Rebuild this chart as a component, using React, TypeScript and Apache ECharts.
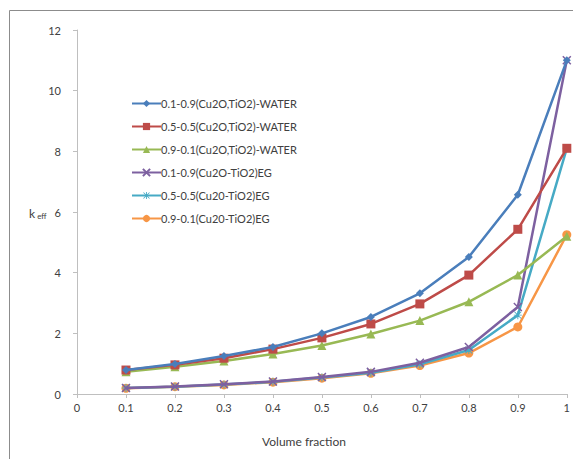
import React, { useEffect, useRef } from "react";
import * as echarts from "echarts";

const xValues = [0.1, 0.2, 0.3, 0.4, 0.5, 0.6, 0.7, 0.8, 0.9, 1.0];
const seriesNames = [
  "0.1-0.9(Cu2O,TiO2)-WATER",
  "0.5-0.5(Cu2O,TiO2)-WATER",
  "0.9-0.1(Cu2O,TiO2)-WATER",
  "0.1-0.9(Cu2O-TiO2)EG",
  "0.5-0.5(Cu20-TiO2)EG",
  "0.9-0.1(Cu20-TiO2)EG",
];
const water01 = [0.79, 0.99, 1.25, 1.55, 2.0, 2.54, 3.32, 4.52, 6.57, 11.0];
const water05 = [0.79, 0.96, 1.18, 1.48, 1.85, 2.31, 2.97, 3.92, 5.43, 8.1];
const water09 = [0.73, 0.9, 1.09, 1.32, 1.6, 1.98, 2.42, 3.04, 3.92, 5.2];
const eg01 = [0.2, 0.25, 0.32, 0.41, 0.56, 0.73, 1.03, 1.55, 2.87, 11.0];
const eg05 = [0.2, 0.24, 0.31, 0.4, 0.54, 0.7, 0.98, 1.45, 2.6, 8.1];
const eg09 = [0.19, 0.24, 0.3, 0.39, 0.52, 0.68, 0.94, 1.35, 2.21, 5.25];
const allValues = [water01, water05, water09, eg01, eg05, eg09];
const colors = ["#4a7ebb", "#be4b48", "#98b954", "#7d60a0", "#46aac5", "#f79646"];
const symbols = [
  "diamond",
  "rect",
  "triangle",
  "path://M0,0 L10,10 M10,0 L0,10",
  "path://M4.4,0 L5.6,0 L5.6,4.4 L10,4.4 L10,5.6 L5.6,5.6 L5.6,10 L4.4,10 L4.4,5.6 L0,5.6 L0,4.4 L4.4,4.4 Z M1.2,0.4 L5,4.2 L8.8,0.4 L9.6,1.2 L5.8,5 L9.6,8.8 L8.8,9.6 L5,5.8 L1.2,9.6 L0.4,8.8 L4.2,5 L0.4,1.2 Z",
  "circle",
];
const symbolSizes = [8, 9, 9, 8, 8, 9];

export default function App() {
  const ref = useRef<HTMLDivElement>(null);
  useEffect(() => {
    if (!ref.current) return;
    const chart = echarts.init(ref.current, null, { renderer: "svg" });
    const textColor = "#404040";
    const font = "Lato, 'Open Sans', sans-serif";
    chart.setOption({
      animation: false,
      backgroundColor: "#ffffff",
      textStyle: { fontFamily: font },
      grid: { left: 77, right: 6, top: 30, bottom: 65, containLabel: false },
      legend: {
        orient: "vertical",
        left: 126,
        top: 93,
        itemWidth: 29,
        itemHeight: 9,
        itemGap: 12,
        textStyle: { color: textColor, fontSize: 11, fontFamily: font, padding: [0, 0, 0, -5] },
        data: seriesNames,
      },
      xAxis: {
        type: "value",
        min: 0,
        max: 1,
        interval: 0.1,
        axisLine: { show: true, lineStyle: { color: "#bfbfbf", width: 1 } },
        axisTick: { show: true, length: 4, lineStyle: { color: "#bfbfbf" } },
        splitLine: { show: false },
        axisLabel: {
          color: textColor,
          fontSize: 11,
          margin: 8,
          formatter: (v: number) => String(Math.round(v * 10) / 10),
        },
      },
      yAxis: {
        type: "value",
        min: 0,
        max: 12,
        interval: 2,
        axisLine: { show: true, lineStyle: { color: "#bfbfbf", width: 1 } },
        axisTick: { show: true, length: 4, lineStyle: { color: "#bfbfbf" } },
        splitLine: { show: false },
        axisLabel: { color: textColor, fontSize: 11, margin: 16 },
      },
      graphic: [
        { type: "line", shape: { x1: 9.5, y1: 10.5, x2: 573, y2: 10.5 }, style: { stroke: "#8c8c8c", lineWidth: 1 } },
        { type: "line", shape: { x1: 9.5, y1: 10.5, x2: 9.5, y2: 459 }, style: { stroke: "#8c8c8c", lineWidth: 1 } },
        {
          type: "text",
          x: 29,
          y: 206,
          style: {
            text: "{k|k}{s| eff}",
            rich: {
              k: { fontSize: 12, fill: textColor, fontFamily: font },
              s: { fontSize: 8, fill: textColor, fontFamily: font, padding: [6, 0, 0, 0] },
            },
          },
        },
        {
          type: "text",
          x: 304,
          y: 441,
          style: { text: "Volume fraction", fontSize: 12, fill: textColor, fontFamily: font, align: "center", verticalAlign: "middle" },
        },
      ],
      series: seriesNames.map((name, i) => ({
        name,
        type: "line",
        data: xValues.map((x, j) => [x, allValues[i][j]]),
        symbol: symbols[i],
        symbolSize: symbolSizes[i],
        showSymbol: true,
        lineStyle: { color: colors[i], width: 2.5 },
        itemStyle: { color: colors[i], borderColor: colors[i], borderWidth: i === 3 ? 1.5 : 0 },
        z: 2 + (5 - i),
      })),
    });
    return () => chart.dispose();
  }, []);
  return <div ref={ref} style={{ position: "fixed", left: 0, top: 0, width: 573, height: 459 }} />;
}
